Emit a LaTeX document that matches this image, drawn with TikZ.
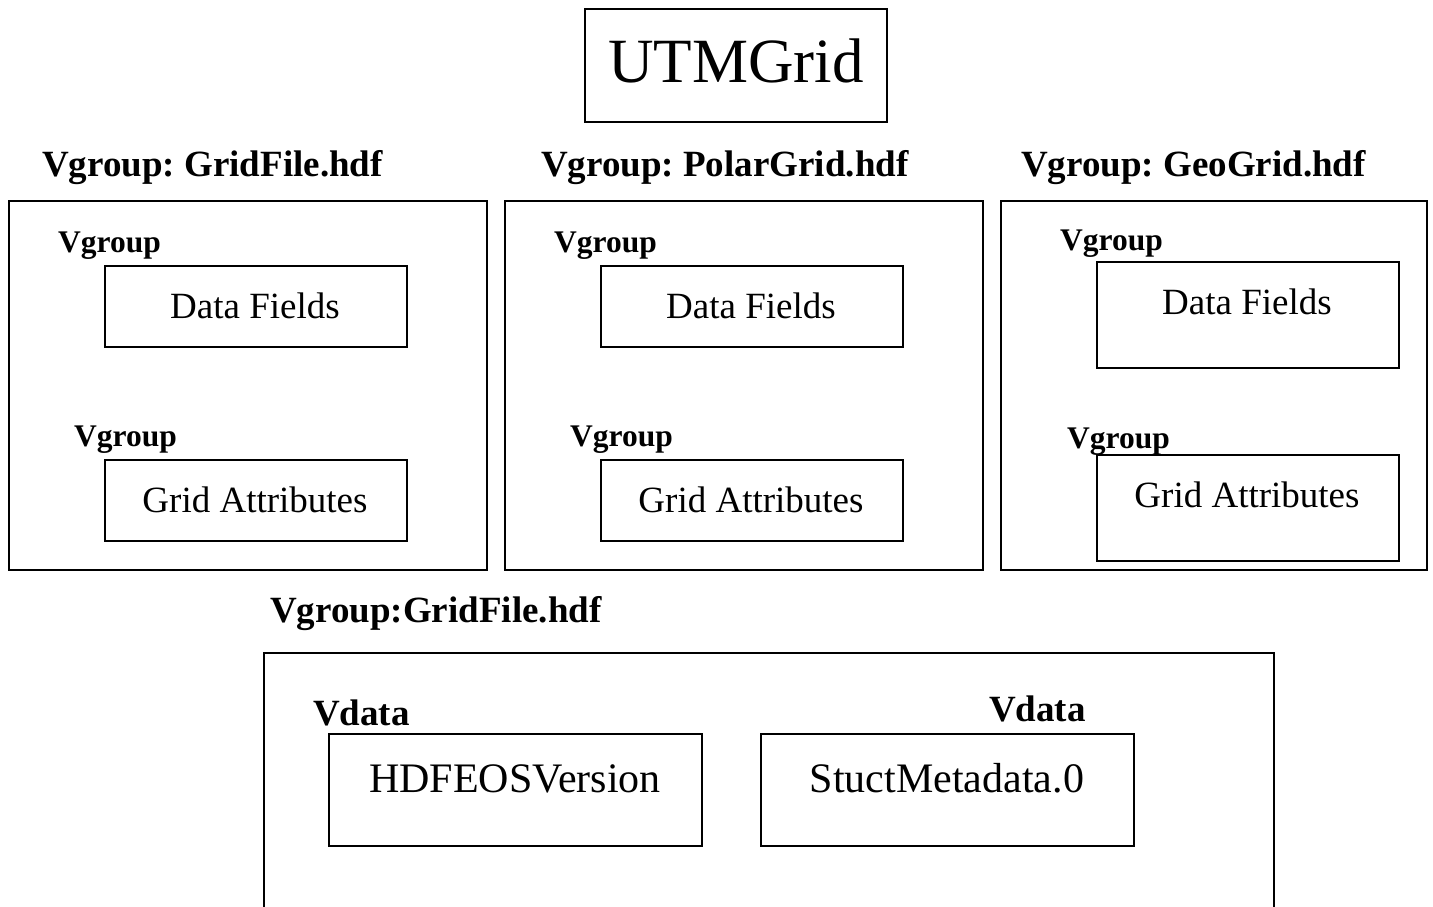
\documentclass[tikz,border=0pt]{standalone}
\usepackage{fontspec}
\setmainfont{Liberation Serif}
\frenchspacing
\begin{document}
\begin{tikzpicture}[x=1pt,y=-1pt,
  box/.style={draw=black,line width=1.6pt,inner sep=0pt,anchor=north west},
  hdr/.style={anchor=base west,inner sep=0pt,font=\fontsize{37}{40}\selectfont\bfseries},
  vlab/.style={anchor=base west,inner sep=0pt,font=\fontsize{31.5}{34}\selectfont\bfseries},
  vdlab/.style={anchor=base west,inner sep=0pt,font=\fontsize{37}{40}\selectfont\bfseries},
  intext/.style={anchor=base,inner sep=0pt,font=\fontsize{37}{40}\selectfont},
  bigtext/.style={anchor=base,inner sep=0pt,font=\fontsize{42}{45}\selectfont}]
\useasboundingbox (0,0) rectangle (1433,907);
% title
\node[box,minimum width=302pt,minimum height=113pt] (title) at (584,8) {};
\node[anchor=base,inner sep=0pt,font=\fontsize{63}{66}\selectfont] (titletext) at (736,83) {UTMGrid};
% headers
\node[hdr] (h1) at (42,176) {Vgroup: GridFile.hdf};
\node[hdr] (h2) at (541,176) {Vgroup: PolarGrid.hdf};
\node[hdr] (h3) at (1021,176) {Vgroup: GeoGrid.hdf};
% group 1
\node[box,minimum width=478pt,minimum height=369pt] (g1) at (8,200) {};
\node[vlab] (g1v1) at (58,252) {Vgroup};
\node[box,minimum width=302pt,minimum height=81pt] (g1df) at (104,265) {};
\node[intext] (g1dft) at (255,318) {Data Fields};
\node[vlab] (g1v2) at (74,446) {Vgroup};
\node[box,minimum width=302pt,minimum height=81pt] (g1ga) at (104,459) {};
\node[intext] (g1gat) at (255,512) {Grid Attributes};
% group 2
\node[box,minimum width=478pt,minimum height=369pt] (g2) at (504,200) {};
\node[vlab] (g2v1) at (554,252) {Vgroup};
\node[box,minimum width=302pt,minimum height=81pt] (g2df) at (600,265) {};
\node[intext] (g2dft) at (751,318) {Data Fields};
\node[vlab] (g2v2) at (570,446) {Vgroup};
\node[box,minimum width=302pt,minimum height=81pt] (g2ga) at (600,459) {};
\node[intext] (g2gat) at (751,512) {Grid Attributes};
% group 3
\node[box,minimum width=426pt,minimum height=369pt] (g3) at (1000,200) {};
\node[vlab] (g3v1) at (1060,250) {Vgroup};
\node[box,minimum width=302pt,minimum height=106pt] (g3df) at (1096,261) {};
\node[intext] (g3dft) at (1247,314) {Data Fields};
\node[vlab] (g3v2) at (1067,448) {Vgroup};
\node[box,minimum width=302pt,minimum height=106pt] (g3ga) at (1096,454) {};
\node[intext] (g3gat) at (1247,507) {Grid Attributes};
% bottom group
\node[hdr] (h4) at (270,622) {Vgroup:GridFile.hdf};
\coordinate (bl) at (264,907);
\coordinate (tl) at (264,653);
\coordinate (tr) at (1274,653);
\coordinate (br) at (1274,907);
\draw[line width=1.6pt] (bl) -- (tl) -- (tr) -- (br);
\node[vdlab] (vd1) at (313,725) {Vdata};
\node[box,minimum width=373pt,minimum height=112pt] (hdfeos) at (328,733) {};
\node[bigtext] (hdfeost) at (515,792) {HDFEOSVersion};
\node[vdlab] (vd2) at (989,721) {Vdata};
\node[box,minimum width=373pt,minimum height=112pt] (smd) at (760,733) {};
\node[bigtext] (smdt) at (947,792) {StuctMetadata.0};
\end{tikzpicture}
\end{document}
